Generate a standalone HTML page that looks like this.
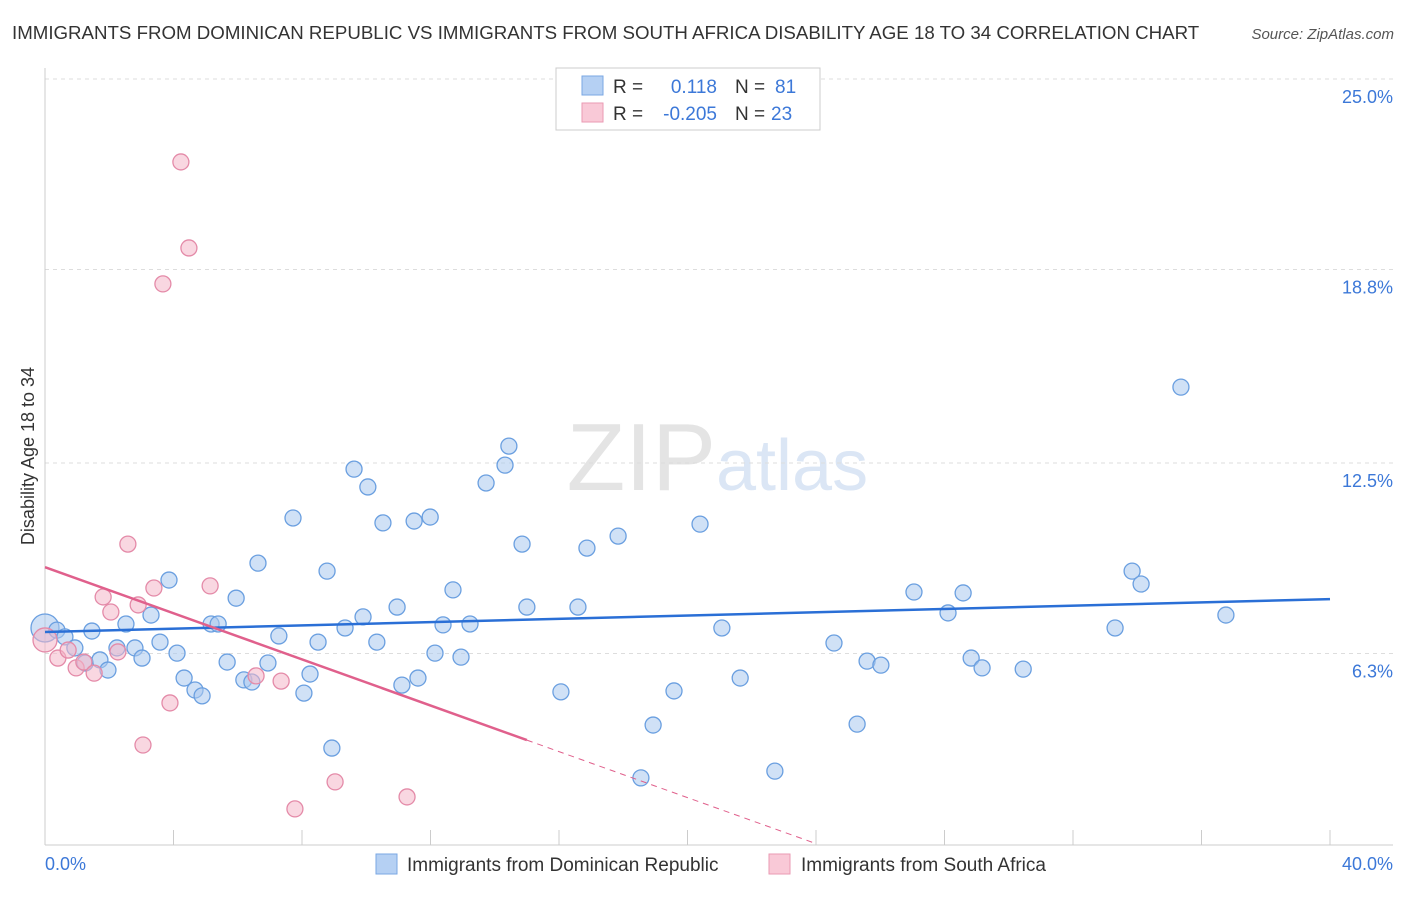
<!DOCTYPE html>
<html><head><meta charset="utf-8"><style>
body{margin:0;background:#fff;font-family:"Liberation Sans",sans-serif;}
svg text{font-family:"Liberation Sans",sans-serif;}
</style></head><body>
<svg id="chart" width="1406" height="892" xmlns="http://www.w3.org/2000/svg">
<text x="12" y="39" font-size="18.7" fill="#333">IMMIGRANTS FROM DOMINICAN REPUBLIC VS IMMIGRANTS FROM SOUTH AFRICA DISABILITY AGE 18 TO 34 CORRELATION CHART</text>
<text x="1394" y="39" font-size="15" fill="#555" text-anchor="end" font-style="italic">Source: ZipAtlas.com</text>
<text x="716" y="490" font-size="96" fill="#e4e4e4" text-anchor="end" font-family="Liberation Serif">ZIP</text>
<text x="716" y="490" font-size="72" fill="#dbe6f5">atlas</text>
<g id="grid"></g><g id="axes"></g><g id="marks"></g>
<text transform="translate(34,456) rotate(-90)" font-size="18" fill="#333" text-anchor="middle">Disability Age 18 to 34</text>
<text x="45" y="870" font-size="18" fill="#3c78d8">0.0%</text>
<text x="1393" y="870" font-size="18" fill="#3c78d8" text-anchor="end">40.0%</text>
<g>
<rect x="556" y="68" width="264" height="62" fill="#fff" stroke="#ccc"/>
<rect x="582" y="76" width="21" height="19" fill="#b5d0f3" stroke="#7aa7e3"/>
<rect x="582" y="103" width="21" height="19" fill="#f9c9d7" stroke="#ea9ab3"/>
<text x="613" y="93" font-size="19" fill="#333">R =</text><text x="717" y="93" font-size="19" fill="#3c78d8" text-anchor="end">0.118</text>
<text x="735" y="93" font-size="19" fill="#333">N =</text><text x="775" y="93" font-size="19" fill="#3c78d8">81</text>
<text x="613" y="120" font-size="19" fill="#333">R =</text><text x="717" y="120" font-size="19" fill="#3c78d8" text-anchor="end">-0.205</text>
<text x="735" y="120" font-size="19" fill="#333">N =</text><text x="771" y="120" font-size="19" fill="#3c78d8">23</text>
</g>
<g>
<rect x="376" y="854" width="21" height="20" fill="#b5d0f3" stroke="#7aa7e3"/>
<text x="407" y="871" font-size="19" fill="#333">Immigrants from Dominican Republic</text>
<rect x="769" y="854" width="21" height="20" fill="#f9c9d7" stroke="#ea9ab3"/>
<text x="801" y="871" font-size="19" fill="#333">Immigrants from South Africa</text>
</g>
</svg>
<script>
const yTicks=[6.3,12.5,18.8,25.0];
const yTickLabels=["6.3%","12.5%","18.8%","25.0%"];
const blueX=[0,0.37,0.62,0.93,1.25,1.46,1.71,1.96,2.24,2.52,2.80,3.02,3.30,3.58,3.86,4.11,4.33,4.67,4.89,5.17,5.39,5.67,5.95,6.19,6.44,6.63,6.94,7.28,7.72,8.06,8.25,8.50,8.78,8.93,9.34,9.62,9.90,10.05,10.33,10.52,10.96,11.11,11.49,11.61,11.99,12.14,12.39,12.70,12.95,13.23,13.73,14.32,14.44,14.85,15.00,16.06,16.59,16.87,17.84,18.55,18.93,19.58,20.39,21.07,21.64,22.72,24.56,25.28,25.59,26.02,27.05,28.11,28.58,28.83,29.17,30.45,33.31,33.84,34.12,35.36,36.76];
const blueY=[7.13,7.06,6.84,6.48,5.99,7.03,6.09,5.76,6.48,7.26,6.48,6.15,7.55,6.67,8.69,6.31,5.50,5.11,4.92,7.26,7.26,6.02,8.10,5.44,5.37,9.24,5.99,6.87,10.71,5.01,5.63,6.67,8.98,3.22,7.13,12.30,7.49,11.72,6.67,10.55,7.81,5.27,10.61,5.50,10.74,6.31,7.23,8.37,6.18,7.26,11.85,12.43,13.05,9.86,7.81,5.05,7.81,9.73,10.12,2.25,3.97,5.08,10.51,7.13,5.50,2.47,6.64,4.00,6.05,5.92,8.30,7.62,8.27,6.15,5.83,5.79,7.13,8.98,8.56,14.97,7.55];
const pinkX=[0,0.40,0.72,0.97,1.21,1.53,1.81,2.05,2.27,2.58,2.90,3.05,3.39,3.67,3.89,4.23,4.48,5.14,6.57,7.35,7.78,9.03,11.27];
const pinkY=[6.74,6.15,6.41,5.83,6.02,5.66,8.14,7.65,6.35,9.86,7.88,3.32,8.43,18.33,4.69,22.30,19.50,8.50,5.57,5.40,1.24,2.12,1.63];
const blueTrend=[0,7.00,40,8.07];
const pinkTrend=[0,9.11,15,3.48,24,0.11];
const NS="http://www.w3.org/2000/svg";
const X=v=>45+v/40*1285, Y=v=>847-v/6.25*192;
function mk(t,a,p){const e=document.createElementNS(NS,t);for(const k in a)e.setAttribute(k,a[k]);p.appendChild(e);return e;}
const grid=document.getElementById('grid'),axes=document.getElementById('axes'),marks=document.getElementById('marks');
yTicks.forEach((t,i)=>{
 const l=mk('line',{x1:45,x2:1393,y1:Y(t),y2:Y(t),stroke:'#ddd','stroke-dasharray':'4,4'},grid);
 
 
 const tx=mk('text',{x:1393,y:Y(t)+24,'font-size':18,fill:'#3c78d8','text-anchor':'end'},grid);
 tx.textContent=yTickLabels[i];
 
 
});
const ax=mk('line',{x1:45,x2:45,y1:68,y2:845,stroke:'#ccc'},axes);


const bx=mk('line',{x1:45,x2:1393,y1:845,y2:845,stroke:'#ccc'},axes);


for(let i=0;i<=10;i++){const t=mk('line',{x1:X(i*4),x2:X(i*4),y1:830,y2:845,stroke:'#ccc'},axes);
 
 }
function dot(x,y,f,s,n,r){const c=mk('circle',{cx:X(x),cy:Y(y),r:r||8,fill:f,'fill-opacity':0.55,stroke:s,'stroke-width':1.3},marks);
 
 }
blueX.forEach((x,i)=>dot(x,blueY[i],'#a9c8ef','#6a9fe0','dominican-point',i==0?14:8));
pinkX.forEach((x,i)=>dot(x,pinkY[i],'#f4b6c8','#e48aa8','south-africa-point',i==0?12:8));
const bl=mk('line',{x1:X(blueTrend[0]),y1:Y(blueTrend[1]),x2:X(blueTrend[2]),y2:Y(blueTrend[3]),stroke:'#2a6fd6','stroke-width':2.5},marks);


const pl=mk('line',{x1:X(pinkTrend[0]),y1:Y(pinkTrend[1]),x2:X(pinkTrend[2]),y2:Y(pinkTrend[3]),stroke:'#e0608c','stroke-width':2.5},marks);


const pd=mk('line',{x1:X(pinkTrend[2]),y1:Y(pinkTrend[3]),x2:X(pinkTrend[4]),y2:Y(pinkTrend[5]),stroke:'#e0608c','stroke-width':1,'stroke-dasharray':'6,5'},marks);


</script>
</body></html>
